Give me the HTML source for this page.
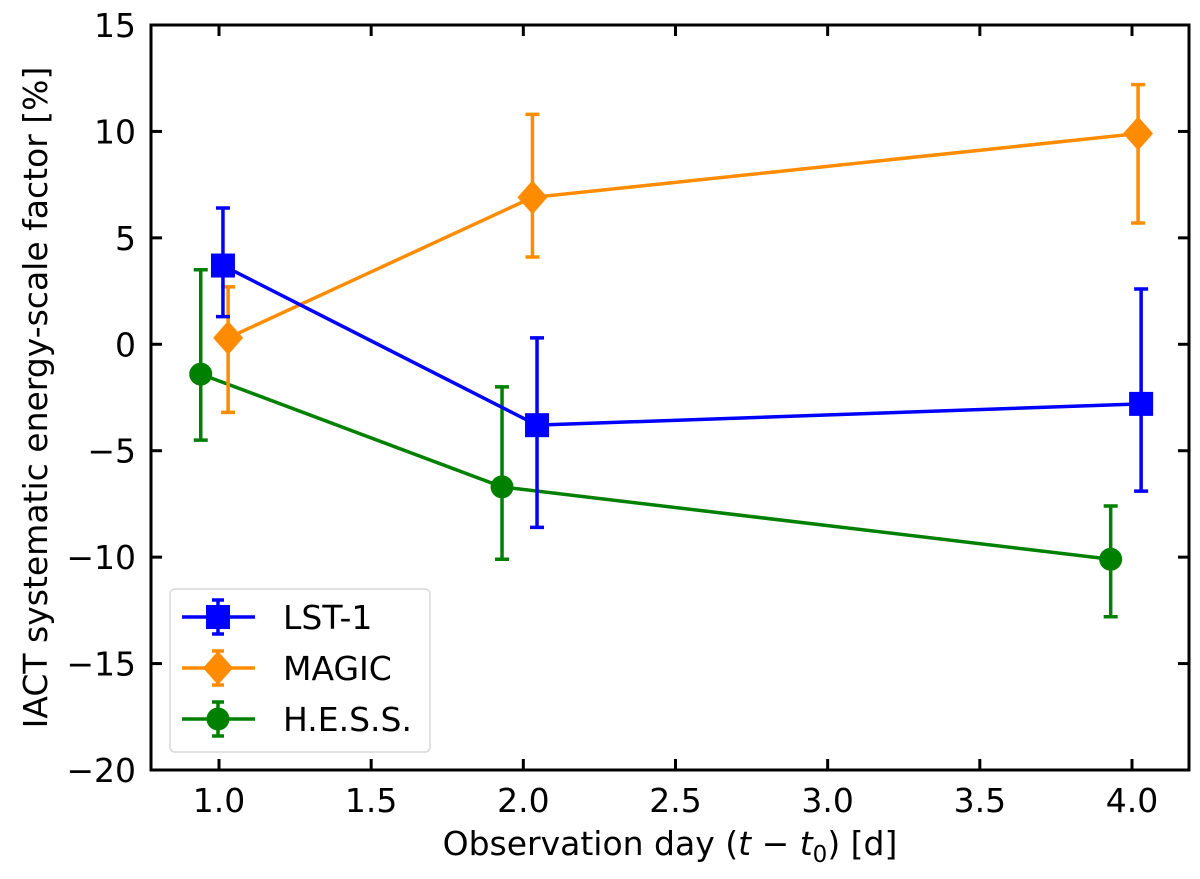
<!DOCTYPE html>
<html><head><meta charset="utf-8"><style>
body{margin:0;background:#fff;}
svg text{font-family:"DejaVu Sans","Liberation Sans",sans-serif;fill:#000;}
</style></head><body>
<svg id="chart" width="1200" height="874" xmlns="http://www.w3.org/2000/svg">
<g id="plot"></g>
</svg>
<script>
const xTicks=[1.0,1.5,2.0,2.5,3.0,3.5,4.0];
const yTicks=[-20,-15,-10,-5,0,5,10,15];
const lstX=[1.013,2.045,4.03];
const lstY=[3.7,-3.8,-2.8];
const lstHi=[6.4,0.3,2.6];
const lstLo=[1.3,-8.6,-6.9];
const magicX=[1.03,2.03,4.02];
const magicY=[0.3,6.9,9.9];
const magicHi=[2.7,10.8,12.2];
const magicLo=[-3.2,4.1,5.7];
const hessX=[0.94,1.93,3.93];
const hessY=[-1.4,-6.7,-10.1];
const hessHi=[3.5,-2.0,-7.6];
const hessLo=[-4.5,-10.1,-12.8];

const L=151,R=1189,T=25,B=770;
const X=v=>219+(v-1)*304.33;
const Y=v=>T+(15-v)*(B-T)/35;
const NS='http://www.w3.org/2000/svg';
const g=document.getElementById('plot');
function mk(tag,attrs,parent){const e=document.createElementNS(NS,tag);for(const k in attrs)e.setAttribute(k,attrs[k]);(parent||g).appendChild(e);return e;}
const FS=33;

xTicks.forEach(t=>{
  const x=X(t);
  const a=mk('line',{x1:x,x2:x,y1:B,y2:B-11,stroke:'#000','stroke-width':3});
  
  
  const b=mk('line',{x1:x,x2:x,y1:T,y2:T+11,stroke:'#000','stroke-width':3});
  
  
  const tx=mk('text',{x:x,y:B+42,'text-anchor':'middle','font-size':FS});
  tx.textContent=t.toFixed(1);
  
  
});
yTicks.forEach(t=>{
  const y=Y(t);
  const a=mk('line',{x1:L,x2:L+11,y1:y,y2:y,stroke:'#000','stroke-width':3});
  
  
  const b=mk('line',{x1:R,x2:R-11,y1:y,y2:y,stroke:'#000','stroke-width':3});
  
  
  const tx=mk('text',{x:L-15,y:y+12,'text-anchor':'end','font-size':FS});
  tx.textContent=String(t).replace('-','\u2212');
  
  
});

function marker(type,cx,cy,color,parent){
  let m;
  if(type==='s') m=mk('rect',{x:cx-12,y:cy-12,width:24,height:24,fill:color},parent);
  else if(type==='d') m=mk('polygon',{points:`${cx},${cy-17} ${cx+15},${cy} ${cx},${cy+17} ${cx-15},${cy}`,fill:color},parent);
  else m=mk('circle',{cx:cx,cy:cy,r:11.5,fill:color},parent);
  return m;
}
function series(name,xs,ys,hi,lo,color,type){
  const sg=mk('g',{});
  
  
  const pts=xs.map((x,i)=>X(x)+','+Y(ys[i])).join(' ');
  const pl=mk('polyline',{points:pts,fill:'none',stroke:color,'stroke-width':3.5},sg);
  
  
  xs.forEach((x,i)=>{
    const cx=X(x);
    const eb=mk('path',{d:`M${cx},${Y(hi[i])}V${Y(lo[i])}M${cx-7},${Y(hi[i])}H${cx+7}M${cx-7},${Y(lo[i])}H${cx+7}`,stroke:color,'stroke-width':3.5,fill:'none'},sg);
    
    
    const m=marker(type,cx,Y(ys[i]),color,sg);
    
    
  });
}
series('hess',hessX,hessY,hessHi,hessLo,'#008000','o');
series('magic',magicX,magicY,magicHi,magicLo,'#ff8c00','d');
series('lst1',lstX,lstY,lstHi,lstLo,'#0000ff','s');

const fr=mk('rect',{x:L,y:T,width:R-L,height:B-T,fill:'none',stroke:'#000','stroke-width':3});



const xt=mk('text',{x:(L+R)/2,y:855,'text-anchor':'middle','font-size':FS});
xt.innerHTML='Observation day (<tspan font-style="italic">t</tspan> − <tspan font-style="italic">t</tspan><tspan font-size="23" dy="7">0</tspan><tspan dy="-7">) [d]</tspan>';


const yt=mk('text',{x:0,y:0,'text-anchor':'middle','font-size':FS,transform:`translate(47,${(T+B)/2}) rotate(-90)`});
yt.textContent='IACT systematic energy-scale factor [%]';



const lg=mk('g',{});


const lb=mk('rect',{x:170,y:589,width:260,height:163,rx:5,fill:'#fff','fill-opacity':0.8,stroke:'#d8d8d8','stroke-width':1.5},lg);


const legNames=['LST-1','MAGIC','H.E.S.S.'];
const legColors=['#0000ff','#ff8c00','#008000'];
const legTypes=['s','d','o'];
legNames.forEach((n,i)=>{
  const y=617+i*51;
  const eg=mk('g',{},lg);
  
  
  mk('path',{d:`M182,${y}H255M218,${y-17}V${y+17}M212,${y-17}H224M212,${y+17}H224`,stroke:legColors[i],'stroke-width':3.5,fill:'none'},eg);
  marker(legTypes[i],218,y,legColors[i],eg);
  const t=mk('text',{x:283,y:y+12,'font-size':FS},eg);
  t.textContent=n;
});
</script>
</body></html>
